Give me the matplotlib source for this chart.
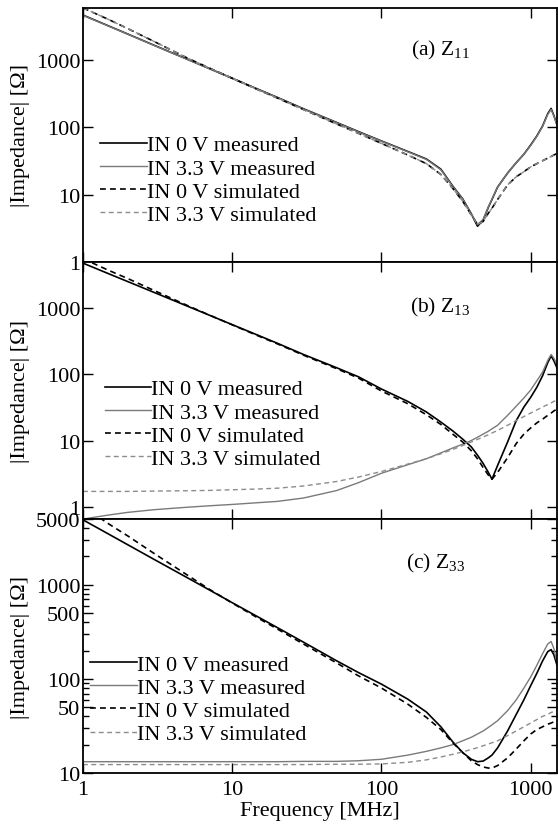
import numpy as np
import matplotlib
matplotlib.use('agg')
import matplotlib.pyplot as plt
from matplotlib.ticker import FixedLocator, NullLocator, FixedFormatter

plt.rcParams['font.family'] = ['Liberation Serif', 'DejaVu Serif']
plt.rcParams['mathtext.fontset'] = 'custom'
plt.rcParams['mathtext.rm'] = 'Liberation Serif'
plt.rcParams['mathtext.it'] = 'Liberation Serif:italic'

# frequency points [MHz]
freq_mhz = [1, 1.5, 2, 3, 5, 7, 10, 15, 20, 30, 50, 70, 100, 150, 200, 250, 300, 350,
            400, 440, 480, 520, 550, 600, 700, 800, 900, 1000, 1100, 1200, 1300, 1370, 1430, 1500]

# (a) Z11
z11_0v_meas = [4700, 3210, 2450, 1670, 1035, 755, 540, 368, 281, 190, 119, 87, 63, 44, 34, 24, 13.5, 8.7,
               5.2, 3.4, 4.2, 6.5, 8.5, 13, 21, 30, 40, 55, 75, 105, 160, 192, 150, 110]
z11_33v_meas = [4650, 3190, 2440, 1660, 1030, 752, 538, 366, 280, 189, 118, 86, 62.5, 43.5, 33.5, 23.5, 13.3, 8.6,
                5.2, 3.6, 4.3, 6.6, 8.6, 13, 21, 30, 40, 54, 74, 103, 156, 186, 148, 108]
z11_0v_sim = [6000, 4000, 2950, 1900, 1080, 770, 540, 362, 275, 185, 113, 82, 58, 39, 29, 20, 12.5, 8,
              5, 3.6, 4, 5.3, 6.3, 8.5, 14, 18.5, 22, 26, 29, 32, 35, 37, 39, 41]
z11_33v_sim = [6000, 4000, 2950, 1900, 1080, 770, 540, 362, 275, 185, 113, 82, 58, 39, 29, 20, 12.5, 8,
               5, 3.6, 4, 5.3, 6.3, 8.5, 14, 18.5, 22, 26, 29, 32, 35, 37, 39, 41]

# (b) Z13
z13_0v_meas = [4800, 3290, 2520, 1730, 1075, 787, 564, 387, 296, 200, 126, 92, 60, 39, 27, 19, 14, 10.5,
               8, 6, 4.5, 3.3, 2.6, 4.2, 9.5, 20, 32, 45, 64, 95, 150, 190, 160, 125]
z13_33v_meas = [0.65, 0.75, 0.82, 0.9, 0.98, 1.03, 1.08, 1.15, 1.2, 1.35, 1.75, 2.3, 3.2, 4.3, 5.3, 6.5, 7.7, 8.8,
                10, 11.2, 12.5, 13.8, 15, 17, 24, 33, 44, 58, 80, 108, 162, 200, 175, 140]
z13_0v_sim = [5600, 3700, 2800, 1850, 1100, 790, 560, 380, 290, 195, 122, 88, 56, 36, 24.5, 17.5, 12.5, 9.5,
              7, 5.3, 3.9, 3, 2.6, 3.3, 5.5, 9, 12.5, 15.5, 18.5, 21, 24, 26, 28, 30]
z13_33v_sim = [1.7, 1.7, 1.7, 1.72, 1.74, 1.76, 1.8, 1.85, 1.9, 2.05, 2.4, 2.8, 3.4, 4.4, 5.3, 6.3, 7.3, 8.4,
               9.5, 10.4, 11.3, 12.2, 13, 14.2, 17, 20, 23, 26, 29, 32, 35, 37, 39, 41]

# (c) Z33
z33_0v_meas = [4900, 3430, 2660, 1860, 1190, 885, 646, 453, 352, 246, 156, 117, 88, 61, 44.5, 31, 21.5, 16.5,
               14, 13.2, 13.4, 14.5, 15.5, 18.5, 28, 42, 60, 85, 115, 155, 195, 205, 180, 140]
z33_33v_meas = [13.2, 13.2, 13.2, 13.2, 13.2, 13.2, 13.2, 13.2, 13.2, 13.3, 13.3, 13.5, 14, 15.5, 17, 18.5, 20, 22,
                24, 26, 28, 30.5, 32.5, 36, 46, 60, 80, 105, 140, 185, 235, 250, 210, 150]
z33_0v_sim = [6800, 4400, 3300, 2150, 1270, 900, 640, 440, 340, 235, 148, 108, 80, 54, 39, 29, 21, 16.5,
              13.5, 12.3, 11.6, 11.3, 11.3, 12, 14.5, 18, 22, 26, 29, 31, 33, 34, 35, 36]
z33_33v_sim = [12.3, 12.3, 12.3, 12.3, 12.3, 12.3, 12.3, 12.3, 12.3, 12.3, 12.4, 12.4, 12.5, 13, 13.8, 14.8, 15.8, 16.8,
               17.8, 18.6, 19.5, 20.3, 21, 22, 25, 28, 31, 34, 37, 40, 42, 44, 45, 46]

labels = ['IN 0 V measured', 'IN 3.3 V measured', 'IN 0 V simulated', 'IN 3.3 V simulated']

panels = [
    dict(series=[z11_0v_meas, z11_33v_meas, z11_0v_sim, z11_33v_sim], title=r'(a) Z$_{11}$',
         ylim=(1, 6000), yticks=[1, 10, 100, 1000], yminor=[],
         pos=[0.1487, 0.6828, 0.8495, 0.3064], title_xy=(0.753, 0.835), leg_xy=(0.036, 0.323)),
    dict(series=[z13_0v_meas, z13_33v_meas, z13_0v_sim, z13_33v_sim], title=r'(b) Z$_{13}$',
         ylim=(0.65, 5000), yticks=[1, 10, 100, 1000], yminor=[],
         pos=[0.1487, 0.3727, 0.8495, 0.3101], title_xy=(0.753, 0.825), leg_xy=(0.046, 0.37)),
    dict(series=[z33_0v_meas, z33_33v_meas, z33_0v_sim, z33_33v_sim], title=r'(c) Z$_{33}$',
         ylim=(10, 5000), yticks=[10, 50, 100, 500, 1000, 5000],
         yminor=[20, 30, 40, 60, 70, 80, 90, 200, 300, 400, 600, 700, 800, 900, 2000, 3000, 4000],
         pos=[0.1487, 0.0663, 0.8495, 0.3064], title_xy=(0.743, 0.83), leg_xy=(0.015, 0.29)),
]

styles = [
    dict(color='black', lw=1.2, ls='-'),
    dict(color='#7a7a7a', lw=1.0, ls='-'),
    dict(color='black', lw=1.2, ls=(0, (3.5, 2.5))),
    dict(color='#8c8c8c', lw=1.0, ls=(0, (3.5, 2.5))),
]

fig = plt.figure(figsize=(5.58, 8.29), dpi=100)

for i, p in enumerate(panels):
    ax = fig.add_axes(p['pos'])
    for vals, st, lab in zip(p['series'], styles, labels):
        ax.plot(freq_mhz, vals, label=lab, **st)
    ax.set_xscale('log')
    ax.set_yscale('log')
    ax.set_xlim(1, 1500)
    ax.set_ylim(*p['ylim'])

    ax.xaxis.set_major_locator(FixedLocator([1, 10, 100, 1000]))
    ax.xaxis.set_minor_locator(NullLocator())
    ax.yaxis.set_major_locator(FixedLocator(p['yticks']))
    ax.yaxis.set_major_formatter(FixedFormatter([f'{t:g}' for t in p['yticks']]))
    if p['yminor']:
        ax.yaxis.set_minor_locator(FixedLocator(p['yminor']))
    else:
        ax.yaxis.set_minor_locator(NullLocator())

    ax.tick_params(which='both', direction='in', top=True, right=True, width=1.0, labelsize=16)
    ax.tick_params(which='major', length=7)
    ax.tick_params(which='minor', length=4)
    ax.tick_params(axis='y', pad=2)
    ax.tick_params(axis='x', pad=5)
    for s in ax.spines.values():
        s.set_linewidth(1.3)

    if i < 2:
        ax.tick_params(axis='x', labelbottom=False)
    else:
        ax.xaxis.set_major_formatter(FixedFormatter(['1', '10', '100', '1000']))
        ax.set_xlabel('Frequency [MHz]', fontsize=16)
        ax.xaxis.set_label_coords(0.5, -0.11)

    ax.set_ylabel('|Impedance| [Ω]', fontsize=16)
    ax.yaxis.set_label_coords(-0.112, 0.5)

    ax.text(p['title_xy'][0], p['title_xy'][1], p['title'], transform=ax.transAxes,
            ha='center', va='center', fontsize=15.5)

    ax.legend(loc='center left', bbox_to_anchor=p['leg_xy'], frameon=False, fontsize=16,
              handlelength=2.1, handletextpad=0.0, labelspacing=0.12, borderpad=0, borderaxespad=0)

fig.savefig('out.png', dpi=100)
